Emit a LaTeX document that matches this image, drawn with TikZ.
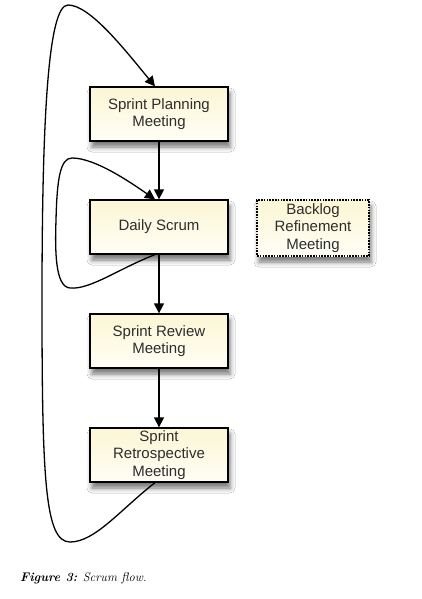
\documentclass[tikz,border=0pt]{standalone}
\usepackage{fontspec}
\setsansfont{Liberation Sans}
\usetikzlibrary{arrows.meta,shadows.blur}
\definecolor{boxtop}{RGB}{251,246,212}
\definecolor{boxbot}{RGB}{255,254,246}
\definecolor{boxtext}{RGB}{45,45,45}
\tikzset{
  meetbox/.style={rectangle, draw=black, line width=1.3pt,
    top color=boxtop, bottom color=boxbot,
    minimum width=138pt, minimum height=54pt, inner sep=0pt,
    align=center, text=boxtext, font=\sffamily\fontsize{15}{17.5}\selectfont,
    blur shadow={shadow xshift=2pt, shadow yshift=-6pt, shadow blur radius=5pt, shadow opacity=55}},
  optbox/.style={meetbox, dash pattern=on 1.6pt off 1.2pt, line width=1.1pt,
    minimum width=112pt, minimum height=56pt},
  flow/.style={draw=black, line width=1.3pt, -{Triangle[length=10pt,width=10pt]}},
}
\begin{document}
\begin{tikzpicture}[x=1pt,y=-1pt]
\fill[white] (0,0) rectangle (422,599);
\useasboundingbox (0,0) rectangle (422,599);

\node[meetbox] (plan) at (159,114) {Sprint Planning\\Meeting};
\node[meetbox] (daily) at (159,227) {Daily Scrum};
\node[meetbox] (review) at (159,341) {Sprint Review\\Meeting};
\node[meetbox] (retro) at (159,455) {Sprint\\Retrospective\\Meeting};
\node[optbox] (backlog) at (313,228) {Backlog\\Refinement\\Meeting};

\draw[flow] (plan.south) -- (daily.north);
\draw[flow] (daily.south) -- (review.north);
\draw[flow] (review.south) -- (retro.north);

% daily self loop
\draw[flow] ([xshift=-4pt]daily.south) .. controls (120,268) and (90,290) .. (70,288)
  .. controls (55,287) and (55,250) .. (56,220)
  .. controls (57,180) and (60,158) .. (72,158)
  .. controls (95,158) and (130,182) .. ([xshift=-4pt]daily.north);

% big loop
\draw[flow] ([xshift=-4pt]retro.south) .. controls (120,510) and (95,542) .. (70,542)
  .. controls (45,542) and (42,480) .. (42,300)
  .. controls (42,120) and (48,5) .. (68,5)
  .. controls (90,5) and (125,50) .. ([xshift=-4pt]plan.north);

\node[anchor=base west, inner sep=0pt, font=\fontsize{12.5}{15}\selectfont] (cap) at (20,581)
  {\textbf{\textit{Figure 3:}} \textit{Scrum flow.}};
\end{tikzpicture}
\end{document}
